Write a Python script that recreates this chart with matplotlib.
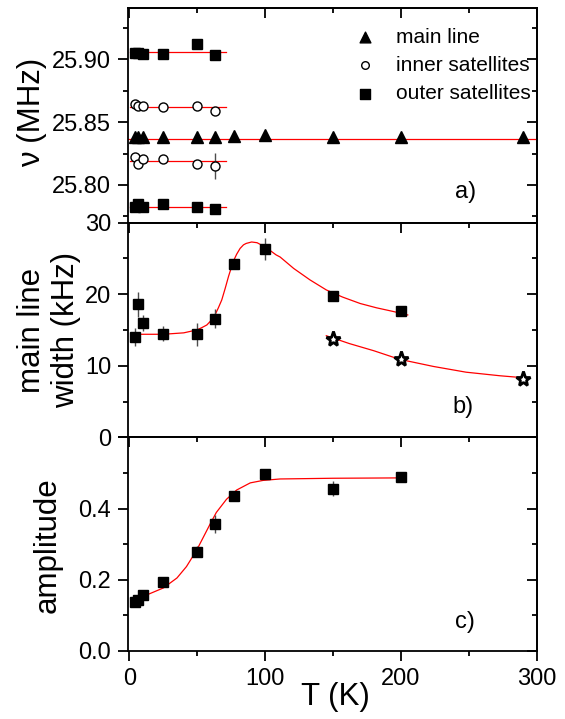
import matplotlib
matplotlib.use("Agg")
import matplotlib.pyplot as plt
from matplotlib.ticker import MultipleLocator, FixedLocator

plt.rcParams['font.family'] = ['Liberation Sans', 'DejaVu Sans']

# ---- data ----
# panel a: line positions (MHz)
T_main = [4, 6, 10, 25, 50, 63, 77, 100, 150, 200, 290]
nu_main = [25.8385, 25.8385, 25.8385, 25.8378, 25.8378, 25.8382, 25.8386, 25.8395, 25.8378, 25.8380, 25.8384]
nu_main_fit = 25.8368

T_sat = [4, 6, 10, 25, 50, 63]
nu_inner_hi = [25.8641, 25.8625, 25.8627, 25.8619, 25.8630, 25.8587]
nu_inner_hi_err = [0.001, 0.001, 0.001, 0.001, 0.002, 0.003]
nu_inner_lo = [25.8222, 25.8164, 25.8209, 25.8209, 25.8170, 25.8148]
nu_inner_lo_err = [0.001, 0.001, 0.001, 0.001, 0.001, 0.0103]
nu_outer_hi = [25.9052, 25.9052, 25.9040, 25.9040, 25.9121, 25.9034]
nu_outer_hi_err = [0.001, 0.001, 0.001, 0.001, 0.001, 0.001]
nu_outer_lo = [25.7826, 25.7845, 25.7822, 25.7849, 25.7822, 25.7807]
nu_outer_lo_err = [0.001, 0.001, 0.001, 0.001, 0.001, 0.0025]
T_sat_fit = [0.5, 71]
nu_sat_fit = [25.9056, 25.8622, 25.8188, 25.7823]

# panel b: main line width (kHz)
T_width = [4, 6, 10, 25, 50, 63, 77, 100, 150, 200]
width = [14.0, 18.6, 16.0, 14.5, 14.4, 16.6, 24.2, 26.3, 19.8, 17.7]
width_err = [1.3, 1.75, 1.1, 1.0, 1.6, 1.3, 0.5, 1.5, 0.7, 0.4]
T_star = [150, 200, 290]
width_star = [13.8, 10.95, 8.15]
T_width_fit = [4, 25, 40, 49.5, 53, 57, 60, 63, 65.5, 68, 70.5, 73, 76.5, 79, 81.5, 84, 86,
               90, 94, 97, 103, 108, 111, 121, 133, 145, 157, 170, 182, 194, 205]
width_fit = [14.4, 14.4, 14.6, 15.0, 15.3, 15.7, 16.3, 17.1, 18.1, 19.2, 20.8, 22.5, 24.6, 25.6,
             26.4, 26.9, 27.1, 27.3, 27.2, 26.9, 26.2, 25.5, 25.2, 23.6, 22.0, 20.6, 19.6,
             18.7, 18.1, 17.6, 17.1]
T_star_fit = [145, 162, 180, 199, 224, 248, 273, 295]
width_star_fit = [14.2, 13.1, 12.1, 10.9, 9.9, 9.1, 8.6, 8.25]

# panel c: amplitude
T_amp = [4, 6, 10, 25, 50, 63, 77, 100, 150, 200]
amp = [0.138, 0.143, 0.157, 0.193, 0.279, 0.357, 0.435, 0.497, 0.455, 0.488]
amp_err = [0.005, 0.005, 0.005, 0.005, 0.015, 0.026, 0.008, 0.01, 0.021, 0.006]
T_amp_fit = [4, 12.5, 25, 35, 42, 49.5, 54.5, 59.5, 64, 71.5, 79, 89, 98.5, 111, 150, 200]
amp_fit = [0.148, 0.157, 0.177, 0.205, 0.237, 0.283, 0.320, 0.357, 0.389, 0.426, 0.452,
           0.472, 0.479, 0.483, 0.485, 0.486]

fig = plt.figure(figsize=(5.65, 7.19), dpi=100)
axa = fig.add_axes([0.2260, 0.6903, 0.7239, 0.2982])
axb = fig.add_axes([0.2260, 0.3918, 0.7239, 0.2985])
axc = fig.add_axes([0.2260, 0.0946, 0.7239, 0.2972])

ebar = dict(ls='none', ecolor='0.3', elinewidth=1.0, capsize=0)
red = dict(color='red', lw=0.9)

# panel a
axa.axhline(nu_main_fit, **red)
for v in nu_sat_fit:
    axa.plot(T_sat_fit, [v, v], **red)
axa.errorbar(T_main, nu_main, fmt='^', ms=8, color='black', zorder=3, **ebar)
axa.errorbar(T_sat, nu_outer_hi, yerr=nu_outer_hi_err, fmt='s', ms=7.5, color='black', zorder=3, **ebar)
axa.errorbar(T_sat, nu_outer_lo, yerr=nu_outer_lo_err, fmt='s', ms=7.5, color='black', zorder=3, **ebar)
axa.errorbar(T_sat, nu_inner_hi, yerr=nu_inner_hi_err, fmt='o', ms=6.5, mfc='white', mec='black',
             mew=1.0, zorder=3, **ebar)
axa.errorbar(T_sat, nu_inner_lo, yerr=nu_inner_lo_err, fmt='o', ms=6.5, mfc='white', mec='black',
             mew=1.0, zorder=3, **ebar)
axa.set_ylim(25.770, 25.9405)
axa.yaxis.set_major_locator(FixedLocator([25.80, 25.85, 25.90]))
axa.yaxis.set_minor_locator(FixedLocator([25.775, 25.825, 25.875, 25.925]))
axa.set_yticklabels(['25.80', '25.85', '25.90'])

h1 = axa.scatter([], [], marker='^', s=60, color='black')
h2 = axa.scatter([], [], marker='o', s=30, facecolors='white', edgecolors='black', linewidths=1.0)
h3 = axa.scatter([], [], marker='s', s=45, color='black')
axa.legend([h1, h2, h3], ['main line', 'inner satellites', 'outer satellites'],
           loc='upper right', bbox_to_anchor=(0.985, 0.91), frameon=False, fontsize=15,
           handlelength=1.0, handletextpad=1.0, labelspacing=0.45, borderpad=0, borderaxespad=0)
axa.text(0.825, 0.143, 'a)', transform=axa.transAxes, fontsize=17, ha='center', va='center')

# panel b
axb.plot(T_width_fit, width_fit, **red)
axb.plot(T_star_fit, width_star_fit, **red)
axb.errorbar(T_width, width, yerr=width_err, fmt='s', ms=7.5, color='black', zorder=3, **ebar)
axb.plot(T_star, width_star, '*', ms=11, mfc='white', mec='black', mew=2.0, ls='none', zorder=3)
axb.set_ylim(0, 30)
axb.yaxis.set_major_locator(FixedLocator([0, 10, 20, 30]))
axb.yaxis.set_minor_locator(FixedLocator([5, 15, 25]))
axb.text(0.819, 0.143, 'b)', transform=axb.transAxes, fontsize=17, ha='center', va='center')

# panel c
axc.plot(T_amp_fit, amp_fit, **red)
axc.errorbar(T_amp, amp, yerr=amp_err, fmt='s', ms=7.5, color='black', zorder=3, **ebar)
axc.set_ylim(0, 0.6)
axc.yaxis.set_major_locator(FixedLocator([0.0, 0.2, 0.4, 0.6]))
axc.yaxis.set_minor_locator(FixedLocator([0.1, 0.3, 0.5]))
axc.set_yticklabels(['0.0', '0.2', '0.4', ''])
axc.text(0.825, 0.137, 'c)', transform=axc.transAxes, fontsize=17, ha='center', va='center')

for ax in [axa, axb, axc]:
    ax.set_xlim(-1.3, 300)
    ax.xaxis.set_major_locator(FixedLocator([0, 100, 200, 300]))
    ax.xaxis.set_minor_locator(MultipleLocator(50))
    for s in ax.spines.values():
        s.set_linewidth(1.3)
    ax.tick_params(which='both', direction='out', width=1.3, labelsize=17, pad=5,
                   top=False, right=False)
    ax.tick_params(which='major', length=7)
    ax.tick_params(which='minor', length=3.5)
    top = ax.secondary_xaxis('top')
    top.xaxis.set_major_locator(FixedLocator([0, 100, 200, 300]))
    top.xaxis.set_minor_locator(MultipleLocator(50))
    top.tick_params(which='both', direction='in', width=1.3, labeltop=False)
    top.tick_params(which='major', length=7)
    top.tick_params(which='minor', length=3.5)
    top.spines['top'].set_linewidth(1.3)
    right = ax.secondary_yaxis('right')
    right.yaxis.set_major_locator(ax.yaxis.get_major_locator())
    right.yaxis.set_minor_locator(ax.yaxis.get_minor_locator())
    right.tick_params(which='both', direction='in', width=1.3, labelright=False)
    right.tick_params(which='major', length=7)
    right.tick_params(which='minor', length=3.5)
    right.spines['right'].set_linewidth(1.3)

axa.tick_params(labelbottom=False)
axb.tick_params(labelbottom=False)

fig.text(32.5 / 565, 1 - 112 / 719, 'ν (MHz)', rotation=90, fontsize=22.5, ha='center', va='center')
fig.text(49 / 565, 1 - 330 / 719, 'main line\nwidth (kHz)', rotation=90, fontsize=22.5,
         ha='center', va='center', linespacing=1.2)
fig.text(47.5 / 565, 1 - 545 / 719, 'amplitude', rotation=90, fontsize=22.5, ha='center', va='center')
fig.text(335 / 565, 1 - 697 / 719, 'T (K)', fontsize=22.5, ha='center', va='center')

fig.savefig('out.png', dpi=100)
